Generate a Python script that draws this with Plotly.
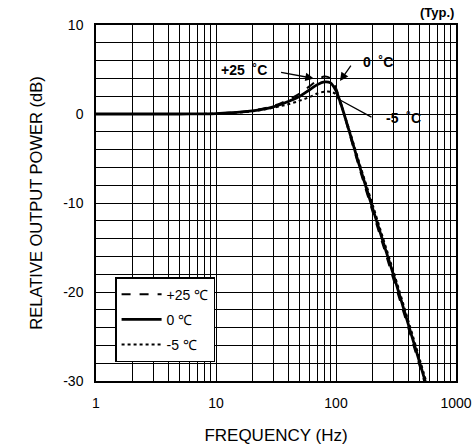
import plotly.graph_objects as go

# Frequency response at three temperatures (relative output power, dB)
freq_p25 = [1, 5, 10, 20, 30, 40, 50, 60, 70, 80, 90, 100, 110, 130, 160, 200, 250, 300, 400, 500, 560]
db_p25 = [0, 0, 0.05, 0.4, 0.9, 1.6, 2.3, 3.1, 3.8, 4.2, 4.0, 2.9, 1.2, -2.3, -6.5, -10.8, -15.0, -18.5, -24.0, -28.4, -30.6]

freq_0 = [1, 5, 10, 20, 30, 40, 50, 60, 70, 80, 90, 100, 110, 130, 160, 200, 250, 300, 400, 500, 570]
db_0 = [0, 0, 0.05, 0.35, 0.8, 1.4, 2.0, 2.7, 3.3, 3.6, 3.5, 2.6, 1.1, -2.1, -6.2, -10.4, -14.6, -18.0, -23.6, -28.0, -30.6]

freq_m5 = [1, 5, 10, 20, 30, 40, 50, 60, 70, 80, 90, 100, 110, 130, 160, 200, 250, 300, 400, 500, 580]
db_m5 = [0, 0, 0.05, 0.3, 0.7, 1.1, 1.5, 1.9, 2.3, 2.5, 2.5, 2.2, 1.0, -1.9, -5.9, -10.0, -14.2, -17.6, -23.2, -27.6, -30.6]

y_ticks = list(range(-30, 11, 2))
x_ticks = [m * 10 ** k for k in range(3) for m in range(1, 10)] + [1000]

FONT = "Liberation Sans, Arial, sans-serif"

fig = go.Figure()
fig.add_trace(go.Scatter(x=freq_p25, y=db_p25, mode="lines", name="+25 ℃", legendgroup="a",
                         line=dict(color="black", width=2, dash="dash", shape="spline")))
fig.add_trace(go.Scatter(x=freq_0, y=db_0, mode="lines", name="0 ℃", legendgroup="b",
                         line=dict(color="black", width=2.8, shape="spline")))
fig.add_trace(go.Scatter(x=freq_m5, y=db_m5, mode="lines", name="-5 ℃", legendgroup="c",
                         line=dict(color="black", width=2, dash="dot", shape="spline")))

fig.update_xaxes(
    type="log", range=[0, 3], automargin=False,
    tickvals=x_ticks,
    ticktext=[str(v) if v in (1, 10, 100, 1000) else "" for v in x_ticks],
    showgrid=True, gridcolor="black", gridwidth=1.3,
    showline=True, linecolor="black", linewidth=1.5, mirror=True,
    ticks="", zeroline=False, ticklabelstandoff=8,
    tickfont=dict(family=FONT, size=14, color="black"),
    title=dict(text="FREQUENCY (Hz)", font=dict(family=FONT, size=17, color="black"), standoff=20),
)
fig.update_yaxes(
    range=[-30, 10], automargin=False,
    tickvals=y_ticks,
    ticktext=[str(v) if v % 10 == 0 else "" for v in y_ticks],
    showgrid=True, gridcolor="black", gridwidth=1.3,
    showline=True, linecolor="black", linewidth=1.5, mirror=True,
    ticks="", zeroline=False, ticklabelstandoff=8,
    tickfont=dict(family=FONT, size=14, color="black"),
    title=dict(text="RELATIVE OUTPUT POWER (dB)", font=dict(family=FONT, size=16.5, color="black"), standoff=16),
)

ann_font = dict(family=FONT, size=14, color="black")
fig.add_annotation(xref="paper", yref="paper", x=1.0, y=1.0, yanchor="bottom", xanchor="right", yshift=3,
                   text="<b>(Typ.)</b>", showarrow=False, font=dict(family=FONT, size=13, color="black"))

# Peak labels with leader arrows (x positions in log10 units)
fig.add_annotation(x=1.815, y=4.0, xref="x", yref="y", axref="x", ayref="y",
                   ax=1.53, ay=4.7, text="", showarrow=True, arrowhead=2, arrowsize=1.3,
                   arrowwidth=1.3, arrowcolor="black")
fig.add_annotation(x=1.233, y=4.94, xref="x", yref="y", text="<b>+25  ˚C</b>", showarrow=False,
                   font=ann_font)
fig.add_annotation(x=2.033, y=3.7, xref="x", yref="y", axref="x", ayref="y",
                   ax=2.133, ay=5.6, text="", showarrow=True, arrowhead=2, arrowsize=1.3,
                   arrowwidth=1.3, arrowcolor="black")
fig.add_annotation(x=2.35, y=5.84, xref="x", yref="y", text="<b>0  ˚C</b>", showarrow=False,
                   font=ann_font)
fig.add_annotation(x=2.03, y=1.6, xref="x", yref="y", axref="x", ayref="y",
                   ax=2.308, ay=-0.45, text="", showarrow=True, arrowhead=0,
                   arrowwidth=1.3, arrowcolor="black")
fig.add_annotation(x=2.56, y=-0.45, xref="x", yref="y", text="<b>-5  ˚C</b>", showarrow=False,
                   font=ann_font)

fig.update_layout(
    width=473, height=446,
    margin=dict(l=96, r=17, t=25, b=65),
    paper_bgcolor="white", plot_bgcolor="white",
    showlegend=True,
    legend=dict(x=0.053, y=0.292, xanchor="left", yanchor="top",
                bgcolor="white", bordercolor="black", borderwidth=1.5,
                font=dict(family=FONT, size=14, color="black"),
                itemwidth=40, tracegroupgap=4),
)

fig.write_html("out.html")
